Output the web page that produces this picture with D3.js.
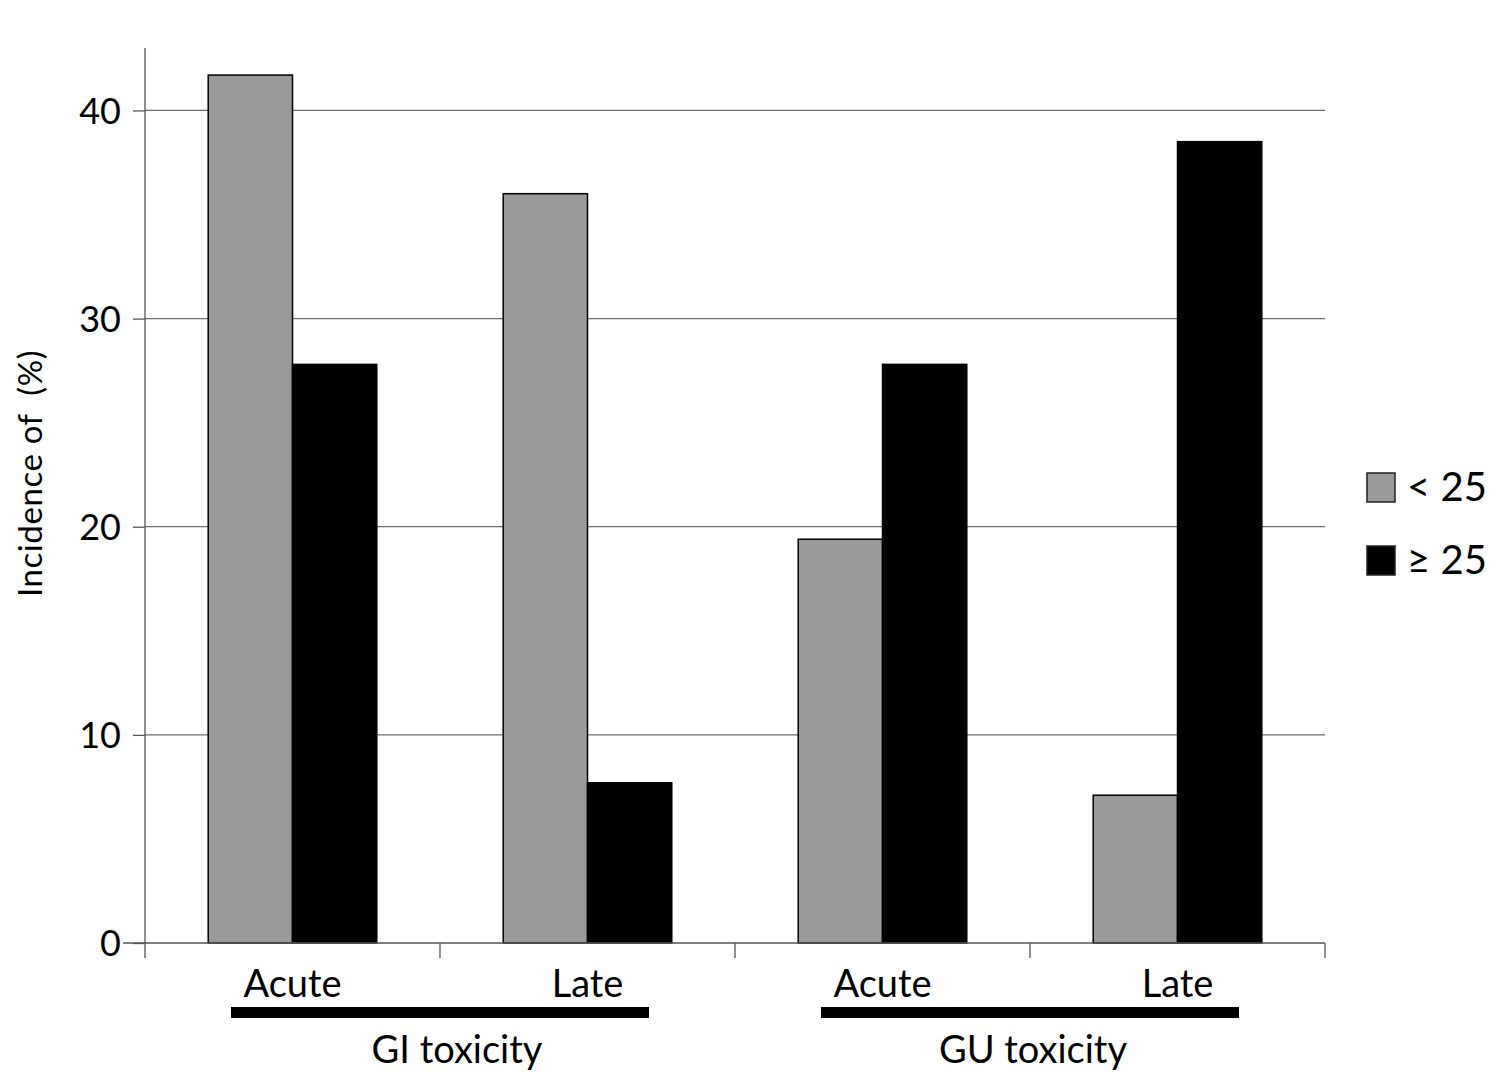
<!DOCTYPE html>
<html>
<head>
<meta charset="utf-8">
<script src="https://cdn.jsdelivr.net/npm/d3@7"></script>
<style>
  body { margin: 0; background: #fff; }
  text { font-family: Lato, "Open Sans", sans-serif; fill: #000; }
</style>
</head>
<body>
<div id="chart"></div>
<script>
// Data
const categories = ["GI Acute", "GI Late", "GU Acute", "GU Late"];
const catLabels = ["Acute", "Late", "Acute", "Late"];
const seriesNames = ["< 25", "\u2265 25"];
const below25 = [41.7, 36.0, 19.4, 7.1];
const above25 = [27.8, 7.7, 27.8, 38.5];
const groups = [
  {name: "GI toxicity", from: "GI Acute", to: "GI Late"},
  {name: "GU toxicity", from: "GU Acute", to: "GU Late"}
];
const yTicks = [0, 10, 20, 30, 40];

// Plot area edges
const W = 1495, H = 1080;
const plot = {left: 145, right: 1325, top: 48, bottom: 943};
const colors = ["#9a9a9a", "#000000"];

const svg = d3.select("#chart").append("svg")
    .attr("width", W)
    .attr("height", H);

const x = d3.scaleBand()
    .domain(categories)
    .range([plot.left, plot.right]);

const xInner = d3.scaleBand()
    .domain(seriesNames)
    .range([0, x.bandwidth()])
    .paddingOuter(0.75);

const y = d3.scaleLinear()
    .domain([0, 43])
    .range([plot.bottom, plot.top]);

// Gridlines
svg.append("g")
  .selectAll("line")
  .data(yTicks.filter(d => d > 0))
  .enter()
  .append("line")
    .attr("x1", plot.left)
    .attr("x2", plot.right)
    .attr("y1", d => y(d))
    .attr("y2", d => y(d))
    .attr("stroke", "#6e6e6e")
    .attr("stroke-width", 1.3);

// Bars
const rows = categories.map((c, i) => ({cat: c, values: [below25[i], above25[i]]}));
const barG = svg.append("g")
  .selectAll("g")
  .data(rows)
  .enter()
  .append("g")
    .attr("transform", d => `translate(${x(d.cat)},0)`);

barG.selectAll("rect")
  .data(d => d.values.map((v, k) => ({name: seriesNames[k], value: v, k: k})))
  .enter()
  .append("rect")
    .attr("x", d => xInner(d.name))
    .attr("width", xInner.bandwidth())
    .attr("y", d => y(d.value))
    .attr("height", d => y(0) - y(d.value))
    .attr("fill", d => colors[d.k])
    .attr("stroke", "#000")
    .attr("stroke-width", 1.5);

// Y axis
const yAxis = svg.append("g")
    .attr("transform", `translate(${plot.left},0)`)
    .call(d3.axisLeft(y).tickValues(yTicks).tickSize(12).tickPadding(12));
yAxis.select(".domain").attr("stroke", "#555").attr("stroke-width", 1.3)
    .attr("d", `M0,${y(0)}V${plot.top}`);
yAxis.selectAll(".tick line").attr("stroke", "#555").attr("stroke-width", 1.3);
yAxis.selectAll(".tick text")
    .style("font-size", "36px")
    .style("font-family", "Lato, 'Open Sans', sans-serif")
    .attr("dy", "0.36em");

// X axis (boundary ticks)
svg.append("line")
    .attr("x1", plot.left - 22).attr("x2", plot.right)
    .attr("y1", y(0)).attr("y2", y(0))
    .attr("stroke", "#555").attr("stroke-width", 1.3);
const bounds = categories.map(c => x(c)).concat([x(categories[categories.length - 1]) + x.bandwidth()]);
svg.append("g")
  .selectAll("line")
  .data(bounds)
  .enter()
  .append("line")
    .attr("x1", d => d).attr("x2", d => d)
    .attr("y1", y(0)).attr("y2", y(0) + 15)
    .attr("stroke", "#555").attr("stroke-width", 1.3);

// Category labels
svg.append("g")
  .selectAll("text")
  .data(categories)
  .enter()
  .append("text")
    .attr("x", d => x(d) + x.bandwidth() / 2)
    .attr("y", 997)
    .attr("text-anchor", "middle")
    .style("font-size", "38px")
    .text((d, i) => catLabels[i]);

// Group bars and labels
const inset = 86;
groups.forEach((g, i) => {
  const x0 = x(g.from) + inset;
  const x1 = x(g.to) + x.bandwidth() - inset;
  svg.append("rect")
      .attr("x", x0)
      .attr("y", 1007)
      .attr("width", x1 - x0)
      .attr("height", 11)
      .attr("fill", "#000");
  svg.append("text")
      .attr("x", (x0 + x1) / 2 + (i === 0 ? 17 : 3))
      .attr("y", 1063)
      .attr("text-anchor", "middle")
      .style("font-size", "38px")
      .text(g.name);
});

// Y axis title
svg.append("text")
    .attr("transform", `translate(42,${(y(0) + plot.top) / 2 - 22}) rotate(-90)`)
    .attr("text-anchor", "middle")
    .style("font-size", "33px")
    .style("letter-spacing", "0.6px")
    .style("white-space", "pre")
    .text("Incidence of\u00a0\u00a0(%)");

// Legend
const legend = svg.append("g")
  .selectAll("g")
  .data(seriesNames)
  .enter()
  .append("g")
    .attr("transform", (d, i) => `translate(1367,${473 + i * 73})`);
legend.append("rect")
    .attr("width", 28)
    .attr("height", 29)
    .attr("fill", (d, i) => colors[i])
    .attr("stroke", "#222")
    .attr("stroke-width", 1.5);
legend.append("text")
    .attr("x", 40)
    .attr("y", 28)
    .style("font-size", "40px")
    .text(d => d);
</script>
</body>
</html>
